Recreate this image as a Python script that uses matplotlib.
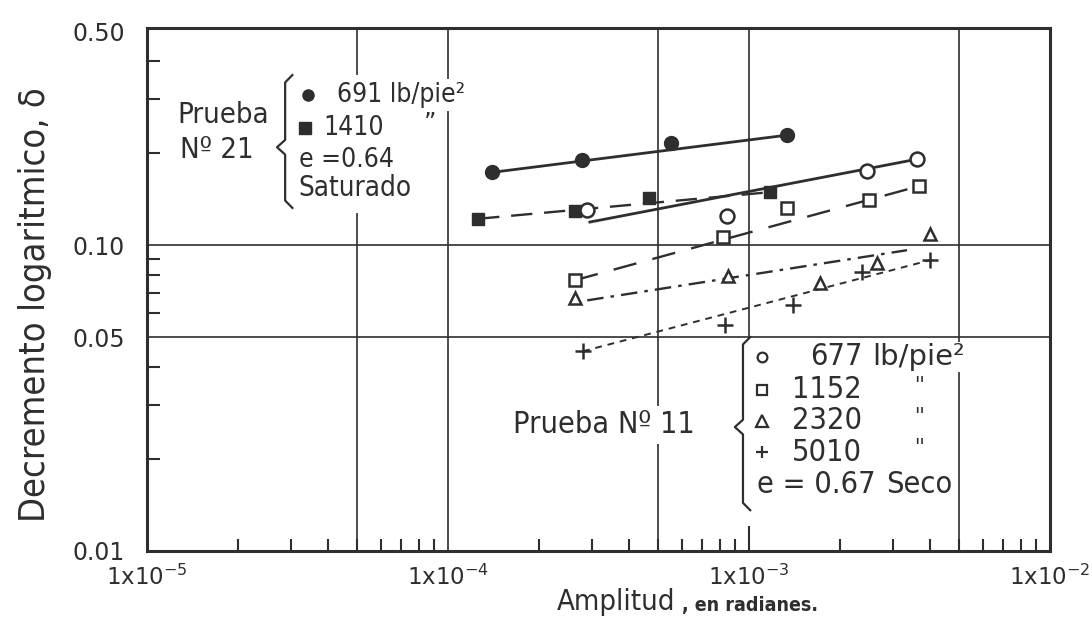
import matplotlib

matplotlib.use("Agg")
import matplotlib.pyplot as plt
from matplotlib.lines import Line2D
from matplotlib.patches import Rectangle
from matplotlib.ticker import LogLocator, NullFormatter

INK = "#2e2e2e"

# Prueba Nº 21, saturado (e = 0.64)
X_691 = [1.40e-4, 2.79e-4, 5.51e-4, 1.34e-3]
Y_691 = [0.173, 0.190, 0.216, 0.229]
X_1410 = [1.26e-4, 2.64e-4, 4.65e-4, 1.17e-3]
Y_1410 = [0.122, 0.129, 0.143, 0.149]

# Prueba Nº 11, seco (e = 0.67)
X_677 = [2.90e-4, 8.45e-4, 2.47e-3, 3.61e-3]
Y_677 = [0.130, 0.125, 0.175, 0.191]
X_1152 = [2.64e-4, 8.20e-4, 1.34e-3, 2.51e-3, 3.67e-3]
Y_1152 = [0.0768, 0.106, 0.132, 0.141, 0.156]
X_2320 = [2.64e-4, 8.51e-4, 1.72e-3, 2.66e-3, 3.99e-3]
Y_2320 = [0.0671, 0.0792, 0.0751, 0.0873, 0.109]
X_5010 = [2.81e-4, 8.32e-4, 1.40e-3, 2.37e-3, 3.99e-3]
Y_5010 = [0.045, 0.0547, 0.0637, 0.0816, 0.0893]

# hand-drawn trend lines (end points)
FIT_X_691, FIT_Y_691 = [1.40e-4, 1.34e-3], [0.173, 0.229]
FIT_X_1410, FIT_Y_1410 = [1.26e-4, 1.17e-3], [0.122, 0.149]
FIT_X_677, FIT_Y_677 = [2.96e-4, 3.61e-3], [0.119, 0.191]
FIT_X_1152, FIT_Y_1152 = [2.64e-4, 3.67e-3], [0.0768, 0.156]
FIT_X_2320, FIT_Y_2320 = [2.90e-4, 3.35e-3], [0.066, 0.0963]
FIT_X_5010, FIT_Y_5010 = [2.81e-4, 3.99e-3], [0.045, 0.0893]

X_TICKS = [1e-5, 1e-4, 1e-3, 1e-2]
X_TICK_LABELS = ["1x10$^{-5}$", "1x10$^{-4}$", "1x10$^{-3}$", "1x10$^{-2}$"]
Y_TICKS = [0.01, 0.05, 0.10, 0.50]
Y_TICK_LABELS = ["0.01", "0.05", "0.10", "0.50"]
GRID_X = [5e-5, 1e-4, 5e-4, 5e-3]
GRID_Y = [0.05, 0.10]

plt.rcParams.update(
    {
        "font.family": "DejaVu Sans",
        "mathtext.default": "regular",
        "text.color": INK,
        "axes.edgecolor": INK,
        "xtick.color": INK,
        "ytick.color": INK,
    }
)
TXT = dict(color=INK, fontstretch="condensed")


def brace(ax, x, xc, y_top, y_bot, yc, hook=0.008, dy=0.014):
    xs = [x + hook, x, x, xc, x, x, x + hook]
    ys = [y_top, y_top - dy, yc + dy, yc, yc - dy, y_bot + dy, y_bot]
    ax.add_line(Line2D(xs, ys, transform=ax.transAxes, color=INK, lw=1.6, clip_on=False, zorder=6))


def sym(ax, x, y, marker, **kw):
    ax.plot([x], [y], marker=marker, color=INK, transform=ax.transAxes, clip_on=False, zorder=6, **kw)


def note(ax, x, y, s, size=19, **kw):
    kw.setdefault("va", "center")
    kw.setdefault("ha", "left")
    style = dict(TXT)
    style.update(kw)
    ax.text(x, y, s, fontsize=size, transform=ax.transAxes, zorder=6, **style)


fig = plt.figure(figsize=(10.92, 6.31), dpi=100)
ax = fig.add_axes([147 / 1092, 1 - 551 / 631, 903 / 1092, 523 / 631])
ax.set_xscale("log")
ax.set_yscale("log")

# grid (partial line at 1e-3 stops where the legend starts)
for gx in GRID_X:
    ax.axvline(gx, color=INK, lw=1.2, zorder=1)
for gy in GRID_Y:
    ax.axhline(gy, color=INK, lw=1.2, zorder=1)
ax.vlines(1e-3, 0.05, 0.6, color=INK, lw=1.2, zorder=1)
ax.vlines(1e-3, 0.01, 0.0121, color=INK, lw=1.5, zorder=1)

# trend lines
ax.plot(FIT_X_691, FIT_Y_691, color=INK, lw=2.0, zorder=3)
ax.plot(FIT_X_1410, FIT_Y_1410, color=INK, lw=1.7, ls=(0, (9, 5)), zorder=3)
ax.plot(FIT_X_677, FIT_Y_677, color=INK, lw=2.0, zorder=3)
ax.plot(FIT_X_1152, FIT_Y_1152, color=INK, lw=1.7, ls=(0, (10, 7)), zorder=3)
ax.plot(FIT_X_2320, FIT_Y_2320, color=INK, lw=1.7, ls=(0, (7, 3, 1.5, 3)), zorder=3)
ax.plot(FIT_X_5010, FIT_Y_5010, color=INK, lw=1.4, ls=(0, (3.5, 3)), zorder=3)

# points
ax.plot(X_691, Y_691, "o", color=INK, ms=10, zorder=4)
ax.plot(X_1410, Y_1410, "s", color=INK, ms=8.5, zorder=4)
ax.plot(X_677, Y_677, "o", mfc="white", mec=INK, mew=1.8, ms=10, zorder=4)
ax.plot(X_1152, Y_1152, "s", mfc="white", mec=INK, mew=1.8, ms=9, zorder=4)
ax.plot(X_2320, Y_2320, "^", mfc="white", mec=INK, mew=1.8, ms=9, zorder=4)
ax.plot(X_5010, Y_5010, "+", color=INK, mew=1.8, ms=11, zorder=4)

ax.set_xlim(1e-5, 1e-2)
ax.set_ylim(0.01, 0.513)

ax.set_xticks(X_TICKS, X_TICK_LABELS)
ax.set_yticks(Y_TICKS, Y_TICK_LABELS)
ax.xaxis.set_minor_locator(LogLocator(base=10, subs=range(2, 10)))
ax.yaxis.set_minor_locator(LogLocator(base=10, subs=range(2, 10)))
ax.xaxis.set_minor_formatter(NullFormatter())
ax.yaxis.set_minor_formatter(NullFormatter())
ax.tick_params(which="major", length=0)
ax.tick_params(axis="y", which="major", labelsize=17, pad=16)
ax.tick_params(axis="x", which="major", labelsize=16.5, pad=10)
ax.tick_params(which="minor", direction="in", length=9, width=1.5, top=False, right=False)
for sp in ax.spines.values():
    sp.set_linewidth(2.2)
    sp.set_zorder(5)

# Prueba Nº 21 legend
ax.add_patch(Rectangle((0.161, 0.646), 0.158, 0.264, transform=ax.transAxes,
                       facecolor="white", edgecolor="none", zorder=2))
note(ax, 0.034, 0.834, "Prueba", size=21)
note(ax, 0.036, 0.767, "Nº 21", size=21)
brace(ax, 0.153, 0.144, 0.910, 0.656, 0.772)
sym(ax, 0.178, 0.872, "o", ms=8)
note(ax, 0.210, 0.872, "691 lb/pie²", bbox=dict(facecolor="white", edgecolor="none", pad=2))
sym(ax, 0.175, 0.809, "s", ms=8)
note(ax, 0.195, 0.809, "1410")
note(ax, 0.313, 0.815, "\u201d", ha="center")
note(ax, 0.168, 0.748, "e =0.64")
note(ax, 0.168, 0.694, "Saturado", size=20)

# Prueba Nº 11 legend
note(ax, 0.405, 0.241, "Prueba Nº 11", size=22, bbox=dict(facecolor="white", edgecolor="none", pad=3))
brace(ax, 0.660, 0.651, 0.409, 0.078, 0.237)
rows = [0.371, 0.308, 0.249, 0.189, 0.128]
sym(ax, 0.681, rows[0], "o", ms=7, mfc="white", mew=1.6)
sym(ax, 0.681, rows[1], "s", ms=7, mfc="white", mew=1.6)
sym(ax, 0.681, rows[2], "^", ms=8, mfc="white", mew=1.6)
sym(ax, 0.681, rows[3], "+", ms=9, mew=1.6)
for y, s in zip(rows[:4], ["677", "1152", "2320", "5010"]):
    note(ax, 0.792, y, s, size=22, ha="right")
note(ax, 0.803, rows[0], "lb/pie²", size=21, fontstretch="normal",
     bbox=dict(facecolor="white", edgecolor="none", pad=1))
for y in rows[1:4]:
    note(ax, 0.856, y + 0.008, "''", size=16, ha="center")
note(ax, 0.675, rows[4], "e = 0.67", size=22)
note(ax, 0.819, rows[4], "Seco", size=22)

# axis titles
fig.text(35 / 1092, 1 - 305 / 631, "Decremento logaritmico, δ", rotation=90,
         fontsize=26, ha="center", va="center", **TXT)
fig.text(557 / 1092, 1 - 602 / 631, "Amplitud", fontsize=21, ha="left", va="center", **TXT)
fig.text(682 / 1092, 1 - 606 / 631, ", en radianes.", fontsize=14, fontweight="bold",
         ha="left", va="center", **TXT)

fig.savefig("out.png", dpi=100)
